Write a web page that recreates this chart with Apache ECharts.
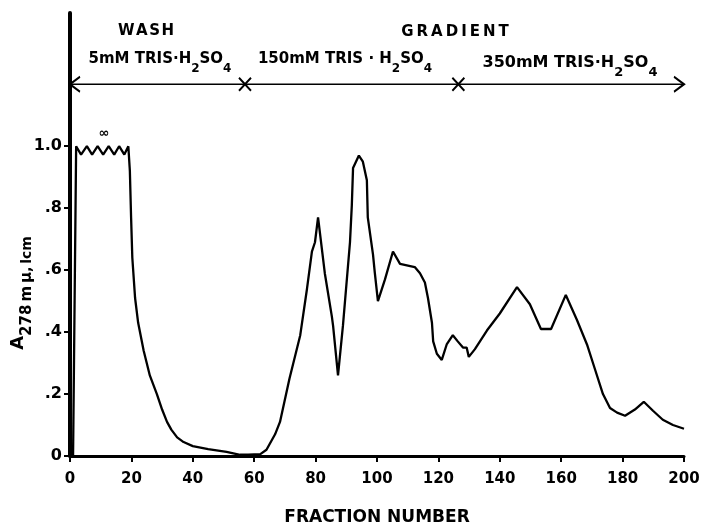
<!DOCTYPE html>
<html><head><meta charset="utf-8">
<script src="https://cdn.jsdelivr.net/npm/echarts@6/dist/echarts.min.js"></script>
<style>html,body{margin:0;padding:0;background:#fff}#c{width:703px;height:522px}</style>
</head><body><div id="c"></div>
<script>
// ---- data ----
const fractions = [1,2,3.6,5.5,7.2,9,10.8,12.6,14.4,16,17.7,19,
  19.5,19.9,20.3,21.2,22.2,24,26,28.3,30,31.6,33,34.9,37,40,45,51,55.4,58,62,64,66.8,68.4,71.5,75,
  77.2,78.8,79.8,80.8,83,85.3,85.7,87.3,88.9,91.2,91.8,92.2,94.1,95.4,96.7,97,98.7,99.3,100.3,
  102.6,105.2,107.5,112.3,114,115.6,116.6,117.9,118.3,119.5,121.1,122.7,124.7,126.3,128,129.2,129.9,
  131.9,135.8,140,145.6,149.8,153.4,156.7,161.5,165.1,168.4,171,173.6,175.9,178.2,180.8,184,186.9,
  189.9,193.1,196.4,200];
const absorbance = [0,1.0,0.973,1.0,0.973,1.0,0.973,1.0,0.973,1.0,0.973,1.0,
  0.92,0.77,0.64,0.51,0.43,0.34,0.26,0.2,0.15,0.11,0.085,0.06,0.045,0.032,0.022,0.013,0.004,0.004,0.006,0.02,0.07,0.11,0.25,0.39,
  0.54,0.66,0.69,0.77,0.59,0.45,0.42,0.26,0.42,0.69,0.81,0.93,0.97,0.95,0.89,0.77,0.65,0.59,0.50,
  0.57,0.66,0.62,0.61,0.59,0.56,0.51,0.43,0.37,0.33,0.31,0.36,0.39,0.37,0.35,0.35,0.32,
  0.345,0.405,0.46,0.545,0.49,0.41,0.41,0.52,0.44,0.36,0.28,0.20,0.155,0.14,0.13,0.15,0.175,
  0.146,0.117,0.10,0.088];
const xTickValues = [0,20,40,60,80,100,120,140,160,180,200];
const yTickValues = [0,0.2,0.4,0.6,0.8,1.0];
const yTickLabels = ['0','.2','.4','.6','.8','1.0'];
const phaseBoundaries = [0,57,126.5,200];
const phaseLevel = 1.2;
const phaseLabels = ['{n|5mM TRIS·H}{s|2}{n|SO}{s|4}', '{n|150mM TRIS · H}{s|2}{n|SO}{s|4}', '{m|350mM TRIS·H}{t|2}{m|SO}{t|4}'];
const sectionLabels = ['W\u200AA\u200AS\u200AH', 'G\u2009R\u2009A\u2009D\u2009I\u2009E\u2009N\u2009T'];

const FF = '"DejaVu Sans", sans-serif';
const chart = echarts.init(document.getElementById('c'));

const phaseSymbols = [
  {symbol:'path://M10,0 L0,6 L10,12', symbolSize:[10,15], symbolOffset:[5,0]},
  {symbol:'path://M0,0 L10,10 M10,0 L0,10', symbolSize:[12,13], symbolOffset:[0,0]},
  {symbol:'path://M0,0 L10,10 M10,0 L0,10', symbolSize:[12,13], symbolOffset:[0,0]},
  {symbol:'path://M0,0 L10,6 L0,12', symbolSize:[10,15], symbolOffset:[-5,0]}
];

const richPhase = {
  n: {fontFamily: FF, fontWeight: 'bold', fontSize: 15, lineHeight: 18, verticalAlign: 'top', fill: '#000', color: '#000'},
  s: {fontFamily: FF, fontWeight: 'bold', fontSize: 12, lineHeight: 34, fill: '#000', color: '#000'},
  m: {fontFamily: FF, fontWeight: 'bold', fontSize: 16, lineHeight: 19, verticalAlign: 'top', fill: '#000', color: '#000'},
  t: {fontFamily: FF, fontWeight: 'bold', fontSize: 13, lineHeight: 36, fill: '#000', color: '#000'}
};

function txt(x, y, text, extra) {
  return {type: 'text', x: x, y: y, z: 10,
    style: Object.assign({text: text, fontFamily: FF, fontWeight: 'bold', fontSize: 15, fill: '#000',
      align: 'center', verticalAlign: 'middle'}, extra || {})};
}

chart.setOption({
  animation: false,
  backgroundColor: '#fff',
  grid: {left: 70, right: 19, top: 13, bottom: 66, containLabel: false, outerBoundsMode: 'none'},
  xAxis: {
    type: 'value', min: 0, max: 200, interval: 20,
    name: 'FRACTION NUMBER', nameLocation: 'middle', nameGap: 53,
    nameTextStyle: {fontFamily: FF, fontWeight: 'bold', fontSize: 17, color: '#000'},
    axisLine: {show: true, lineStyle: {color: '#000', width: 3}},
    axisTick: {show: true, inside: false, length: 6, lineStyle: {color: '#000', width: 2}, customValues: xTickValues},
    axisLabel: {fontFamily: FF, fontWeight: 'bold', fontSize: 15, color: '#000', margin: 16, customValues: xTickValues},
    splitLine: {show: false}
  },
  yAxis: {
    type: 'value', min: 0, max: 1.43,
    axisLine: {show: true, lineStyle: {color: '#000', width: 4}},
    axisTick: {show: true, length: 6, lineStyle: {color: '#000', width: 2}, customValues: yTickValues},
    axisLabel: {fontFamily: FF, fontWeight: 'bold', fontSize: 16, color: '#000', margin: 8,
      customValues: yTickValues,
      formatter: function (v) { const i = yTickValues.findIndex(t => Math.abs(t - v) < 1e-6); return i >= 0 ? yTickLabels[i] : ''; }},
    splitLine: {show: false}
  },
  series: [
    {
      type: 'line', data: fractions.map((f, i) => [f, absorbance[i]]),
      showSymbol: false, smooth: false, clip: false,
      lineStyle: {color: '#000', width: 2.3}, z: 3
    },
    {
      type: 'line', clip: false, z: 4,
      data: phaseBoundaries.map((b, i) => Object.assign({value: [b, phaseLevel]}, phaseSymbols[i])),
      showSymbol: true, showAllSymbol: true,
      lineStyle: {color: '#000', width: 1.6},
      itemStyle: {color: 'rgba(0,0,0,0)', borderColor: '#000', borderWidth: 2}
    }
  ],
  graphic: [
    txt(146, 31, sectionLabels[0]),
    txt(455, 32, sectionLabels[1]),
    {type: 'text', x: 160, y: 52, z: 10, style: {text: phaseLabels[0], rich: richPhase, align: 'center', verticalAlign: 'top', fontFamily: FF, fontWeight: 'bold', fontSize: 15, fill: '#000'}},
    {type: 'text', x: 345, y: 52, z: 10, style: {text: phaseLabels[1], rich: richPhase, align: 'center', verticalAlign: 'top', fontFamily: FF, fontWeight: 'bold', fontSize: 15, fill: '#000'}},
    {type: 'text', x: 570, y: 55, z: 10, style: {text: phaseLabels[2], rich: richPhase, align: 'center', verticalAlign: 'top', fontFamily: FF, fontWeight: 'bold', fontSize: 16, fill: '#000'}},
    txt(104, 134, '\u221E', {fontSize: 13}),
    {type: 'text', x: 9, y: 293, rotation: Math.PI / 2, z: 10,
      style: {text: '{a|A}{b|278\u2009m\u2009μ}{c|,\u2009lcm}', align: 'center', verticalAlign: 'top', fill: '#000',
        rich: {
          a: {fontFamily: FF, fontWeight: 'bold', fontSize: 18, lineHeight: 21, verticalAlign: 'top', fill: '#000', color: '#000'},
          b: {fontFamily: FF, fontWeight: 'bold', fontSize: 15, lineHeight: 37, fill: '#000', color: '#000'},
          c: {fontFamily: FF, fontWeight: 'bold', fontSize: 14, lineHeight: 37, fill: '#000', color: '#000'}
        }}}
  ]
});
</script></body></html>
